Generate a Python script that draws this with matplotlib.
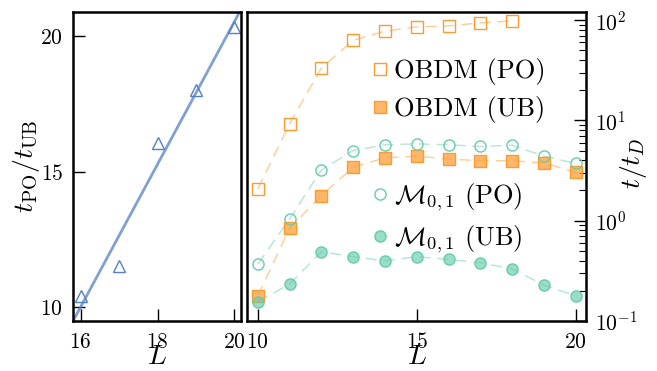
import matplotlib
matplotlib.use("Agg")
import matplotlib.pyplot as plt
import numpy as np

plt.rcParams.update({
    "font.family": "serif",
    "font.serif": ["cmr10", "DejaVu Serif"],
    "mathtext.fontset": "cm",
    "axes.formatter.use_mathtext": True,
    "axes.unicode_minus": False,
})

# ratio t_PO / t_UB
L_ratio = [16, 17, 18, 19, 20]
ratio = [10.43, 11.54, 16.05, 18.01, 20.35]

# t / t_D
L_all = [10, 11, 12, 13, 14, 15, 16, 17, 18, 19, 20]
obdm_po = [2.07, 9.27, 33.3, 63.0, 77.6, 85.8, 87.7, 94.0, 98.5]
obdm_ub = [0.178, 0.838, 1.78, 3.41, 4.24, 4.40, 4.10, 3.98, 3.95, 3.77, 3.04]
m01_po = [0.369, 1.04, 3.21, 5.01, 5.71, 5.84, 5.71, 5.50, 5.66, 4.40, 3.72]
m01_ub = [0.156, 0.233, 0.49, 0.437, 0.398, 0.437, 0.41, 0.38, 0.331, 0.227, 0.178]

blue = "#5580c8"
orange = "#ff9a2e"
teal = "#66cdaa"

fig = plt.figure(figsize=(6.57, 3.71), dpi=100)
ax1 = fig.add_axes([0.111, 0.135, 0.2557, 0.833])
ax2 = fig.add_axes([0.3764, 0.135, 0.515, 0.833])

# panel izquierdo
ax1.plot(L_ratio, ratio, "^", ms=9, mfc="none", mec=blue, mew=1.0)
coef = np.polyfit(L_ratio, ratio, 1)
xx = np.array([15.5, 20.5])
ax1.plot(xx, np.polyval(coef, xx), "-", color=blue, alpha=0.75, lw=2)
ax1.set_xlim(15.8, 20.17)
ax1.set_ylim(9.5, 20.9)
ax1.set_xticks([16, 18, 20])
ax1.set_yticks([10, 15, 20])
ax1.set_xlabel(r"$L$", fontsize=20, labelpad=-6)
ax1.set_ylabel(r"$t_{\rm PO}/t_{\rm UB}$", fontsize=20, labelpad=-1)

# panel derecho
dash = (0, (8, 5))
ax2.plot(L_all[:len(obdm_po)], obdm_po, ls=dash, color=orange, alpha=0.5, lw=1)
ax2.plot(L_all, obdm_ub, ls=dash, color=orange, alpha=0.5, lw=1)
ax2.plot(L_all, m01_po, ls=dash, color=teal, alpha=0.5, lw=1)
ax2.plot(L_all, m01_ub, ls=dash, color=teal, alpha=0.5, lw=1)
h1, = ax2.plot(L_all[:len(obdm_po)], obdm_po, "s", ms=8, mfc="none", mec=orange, mew=1.0,
               label="OBDM (PO)")
h2, = ax2.plot(L_all, obdm_ub, "s", ms=8, mfc=(1.0, 0.6, 0.18, 0.7), mec=orange, mew=1.0,
               label="OBDM (UB)")
h3, = ax2.plot(L_all, m01_po, "o", ms=8, mfc="none", mec=teal, mew=1.0,
               label=r"$\mathcal{M}_{0,1}$ (PO)")
h4, = ax2.plot(L_all, m01_ub, "o", ms=8, mfc=(0.4, 0.8, 0.67, 0.65), mec=teal, mew=1.0,
               label=r"$\mathcal{M}_{0,1}$ (UB)")
ax2.set_yscale("log")
ax2.set_xlim(9.67, 20.31)
ax2.set_ylim(0.1, 121)
ax2.set_xticks([10, 15, 20])
ax2.set_xlabel(r"$L$", fontsize=20, labelpad=-6)
ax2.yaxis.tick_right()
ax2.yaxis.set_label_position("right")
ax2.set_ylabel(r"$t/t_D$", fontsize=20)
ax2.yaxis.set_label_coords(1.0955, 0.51)

leg_kw = dict(frameon=False, fontsize=19, handlelength=0.6, handletextpad=0.23,
              labelspacing=0.4, borderaxespad=0, borderpad=0, loc="center left")
leg1 = ax2.legend(handles=[h1, h2], bbox_to_anchor=(0.3685, 0.745), **leg_kw)
ax2.add_artist(leg1)
ax2.legend(handles=[h3, h4], bbox_to_anchor=(0.3685, 0.331), **leg_kw)

for ax in (ax1, ax2):
    for s in ax.spines.values():
        s.set_linewidth(1.8)
    ax.tick_params(which="both", direction="in", labelsize=15.5)
    ax.tick_params(which="major", length=8.5, width=1)
    ax.tick_params(which="minor", length=5, width=0.8)
    ax.tick_params(axis="y", which="both", pad=7)
    ax.tick_params(axis="x", which="both", pad=8)
ax2.tick_params(axis="y", which="both", right=True, left=False)

fig.savefig("out.png", dpi=100)
